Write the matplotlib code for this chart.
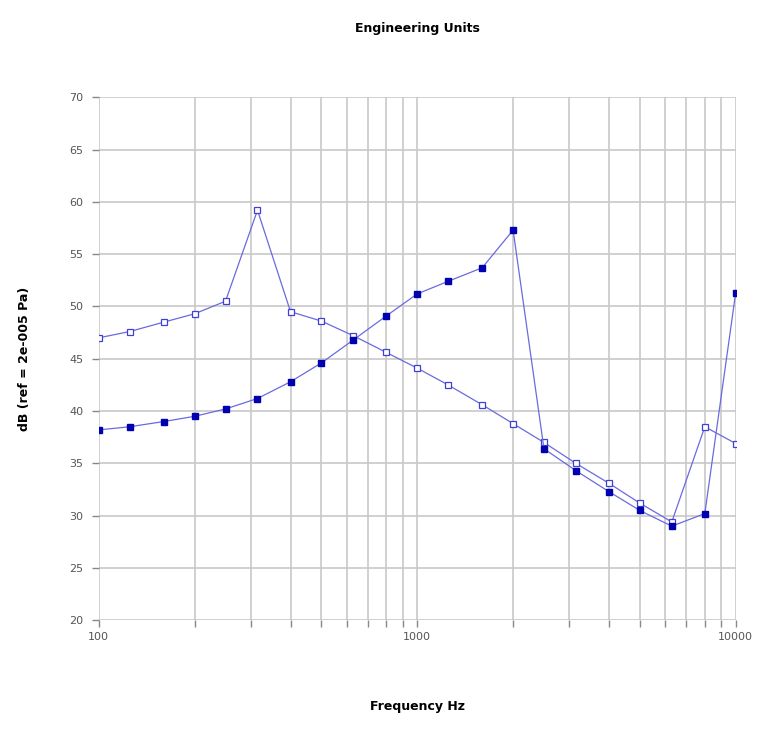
import numpy as np
import matplotlib.pyplot as plt

freqs = [100, 125, 160, 200, 250, 315, 400, 500, 630, 800, 1000,
         1250, 1600, 2000, 2500, 3150, 4000, 5000, 6300, 8000, 10000]
open_db = [47.0, 47.6, 48.5, 49.3, 50.5, 59.2, 49.5, 48.6, 47.2, 45.6, 44.1,
           42.5, 40.6, 38.8, 37.0, 35.0, 33.1, 31.2, 29.4, 38.5, 36.9]
filled_db = [38.2, 38.5, 39.0, 39.5, 40.2, 41.2, 42.8, 44.6, 46.8, 49.1, 51.2,
             52.4, 53.7, 57.3, 36.4, 34.3, 32.3, 30.5, 29.0, 30.2, 51.3]
yticks = [20, 25, 30, 35, 40, 45, 50, 55, 60, 65, 70]

fig = plt.figure(figsize=(7.6, 7.42), dpi=100)
ax = fig.add_axes([0.130, 0.164, 0.838, 0.705])

ax.plot(freqs, open_db, color='#6a6ae0', lw=0.9, marker='s', ms=4.5,
        mfc='white', mec='#4040d8', mew=0.9, zorder=3)
ax.plot(freqs, filled_db, color='#6a6ae0', lw=0.9, marker='s', ms=4.5,
        mfc='#0000b0', mec='#0000b0', zorder=3)

ax.set_xscale('log')
ax.set_xlim(100, 10000)
ax.set_ylim(20, 70)
ax.set_yticks(yticks)
ax.set_xticks([100, 1000, 10000])
ax.set_xticklabels(['100', '1000', '10000'])
ax.xaxis.set_minor_formatter(plt.NullFormatter())

ax.grid(True, which='both', axis='x', color='#c8c8c8', lw=1.2)
ax.grid(True, which='major', axis='y', color='#c8c8c8', lw=1.2)
for s in ax.spines.values():
    s.set_visible(False)
ax.tick_params(axis='both', which='both', colors='#888888', labelcolor='#555555',
               labelsize=8, length=5, width=1)
ax.tick_params(axis='y', pad=6)

ax.set_title('Engineering Units', fontsize=9, fontweight='bold', pad=47)
ax.set_xlabel('Frequency Hz', fontsize=9, fontweight='bold', labelpad=42)
ax.set_ylabel('dB (ref = 2e-005 Pa)', fontsize=9, fontweight='bold', labelpad=28)

fig.savefig('out.png', dpi=100)
